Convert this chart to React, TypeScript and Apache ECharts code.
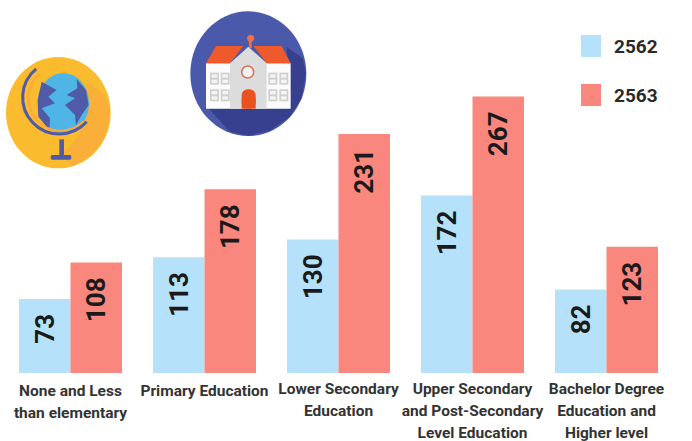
import React, { useEffect, useRef } from "react";
import * as echarts from "echarts";

const categories = [
  "None and Less\nthan elementary",
  "Primary Education",
  "Lower Secondary\nEducation",
  "Upper Secondary\nand Post-Secondary\nLevel Education",
  "Bachelor Degree\nEducation and\nHigher level",
];
const values2562 = [73, 113, 130, 172, 82];
const values2563 = [108, 178, 231, 267, 123];
const seriesNames = ["2562", "2563"];

const FONT = "Roboto";
const z = (pts: number[][]) => pts.map(([x, y]) => [x / 3, y / 3]);
const poly = (pts: number[][], fill: string) => ({ type: "polygon", shape: { points: z(pts) }, style: { fill } });
const rect = (x: number, y: number, w: number, h: number, fill: string, r = 0) => ({
  type: "rect", shape: { x: x / 3, y: y / 3, width: w / 3, height: h / 3, r: r / 3 }, style: { fill },
});
const circ = (cx: number, cy: number, r: number, style: any) => ({
  type: "circle", shape: { cx: cx / 3, cy: cy / 3, r: r / 3 }, style,
});
const ell = (cx: number, cy: number, rx: number, ry: number, fill: string) => ({
  type: "ellipse", shape: { cx: cx / 3, cy: cy / 3, rx: rx / 3, ry: ry / 3 }, style: { fill },
});

function globeIcon() {
  const navy = "#4F5BA6";
  return [
    ell(175, 338, 157, 167, "#FBBB2E"),
    poly([[262, 245], [315, 285], [328, 320], [328, 360], [312, 415], [275, 465], [220, 497], [185, 470], [240, 400]], "#F9AF38"),
    ell(190, 310, 77, 90, "#4FB4E6"),
    poly([[125, 245], [170, 270], [145, 290], [165, 310], [125, 325], [150, 355], [148, 390], [115, 350], [113, 300]], navy),
    poly([[230, 238], [258, 270], [266, 315], [245, 345], [228, 375], [225, 345], [195, 315], [225, 295], [200, 285], [232, 265]], navy),
    { type: "arc", shape: { cx: 178 / 3, cy: 292 / 3, r: 110 / 3, startAngle: 0.73, endAngle: 4.03, clockwise: true }, style: { stroke: navy, lineWidth: 3, fill: "none" } },
    { type: "arc", shape: { cx: 182 / 3, cy: 295 / 3, r: 97 / 3, startAngle: 0.8, endAngle: 4.0, clockwise: true }, style: { stroke: "#F9A83A", lineWidth: 2, fill: "none" } },
    rect(178, 418, 14, 50, navy),
    rect(152, 465, 62, 14, navy, 5),
  ];
}

function schoolIcon() {
  const windows: any[] = [];
  [630, 662, 805, 838].forEach((x) =>
    [218, 268].forEach((y) => {
      windows.push(rect(x, y, 27, 36, "#CFCFCF"), rect(x + 5, y + 5, 17, 10, "#F4F4F4"), rect(x + 5, y + 21, 17, 10, "#F4F4F4"));
    })
  );
  return [
    ell(745, 221, 174, 187, "#4A59AA"),
    poly([[860, 140], [908, 175], [918, 221], [905, 295], [870, 350], [810, 392], [745, 407], [690, 395], [625, 325], [872, 325]], "#36408F"),
    rect(618, 190, 254, 136, "#FBFBFB"),
    poly([[618, 190], [648, 138], [730, 138], [690, 190]], "#EE5A2B"),
    poly([[872, 190], [845, 138], [760, 138], [800, 190]], "#EE5A2B"),
    poly([[745, 140], [690, 190], [690, 326], [800, 326], [800, 190]], "#DCDCDC"),
    ...windows,
    circ(743, 216, 18, { fill: "#F1F1F1", stroke: "#D9725A", lineWidth: 1.5 }),
    rect(725, 268, 42, 58, "#E9511F", 18),
    rect(725, 295, 42, 31, "#E9511F"),
    rect(747, 122, 8, 22, "#E9714B"),
    circ(752, 115, 11, { fill: "#E9714B" }),
  ];
}

const axisLabelStyles = {
  low: { fontFamily: FONT, fontWeight: 700, fontSize: 15.5, color: "#333333", lineHeight: 22, padding: [3, 0, 0, 0] },
  high: { fontFamily: FONT, fontWeight: 700, fontSize: 15.5, color: "#333333", lineHeight: 22 },
};

export default function App() {
  const ref = useRef<HTMLDivElement>(null);
  useEffect(() => {
    const chart = echarts.init(ref.current!, undefined, { renderer: "svg" });
    const barLabel = {
      show: true,
      position: "insideTop" as const,
      distance: 15,
      rotate: 90,
      align: "right" as const,
      verticalAlign: "middle" as const,
      fontFamily: FONT,
      fontWeight: 700,
      fontSize: 26,
      color: "#1A1A1A",
    };
    chart.setOption({
      animation: false,
      backgroundColor: "#ffffff",
      grid: { left: 3.5, right: 18.5, top: 62, bottom: 68 },
      legend: {
        orient: "vertical",
        left: 576,
        top: 30,
        itemWidth: 20,
        itemHeight: 22,
        itemGap: 27,
        selectedMode: false,
        data: seriesNames.map((name) => ({ name, icon: "rect" })),
        textStyle: { fontFamily: FONT, fontWeight: 700, fontSize: 19, color: "#2A2A2A", padding: [0, 0, 0, 8] },
      },
      xAxis: {
        type: "category",
        data: categories,
        axisLine: { show: false },
        axisTick: { show: false },
        axisLabel: {
          interval: 0,
          margin: 5,
          verticalAlign: "top",
          formatter: (v: string, i: number) =>
            v.split("\n").map((l) => `{${i < 2 ? "low" : "high"}|${l}}`).join("\n"),
          rich: axisLabelStyles,
        },
      },
      yAxis: { type: "value", min: 2, max: 300, show: false, splitLine: { show: false } },
      series: [
        { name: seriesNames[0], type: "bar", data: values2562, barWidth: 51.5, barGap: "0%", itemStyle: { color: "#B5E1FB" }, label: barLabel },
        { name: seriesNames[1], type: "bar", data: values2563, barWidth: 51.5, barGap: "0%", itemStyle: { color: "#F9877D" }, label: barLabel },
      ],
      graphic: [
        { type: "group", silent: true, children: globeIcon() },
        { type: "group", silent: true, children: schoolIcon() },
      ],
    });
    return () => chart.dispose();
  }, []);
  return <div ref={ref} style={{ position: "absolute", left: 0, top: 0, width: 692, height: 441 }} />;
}
